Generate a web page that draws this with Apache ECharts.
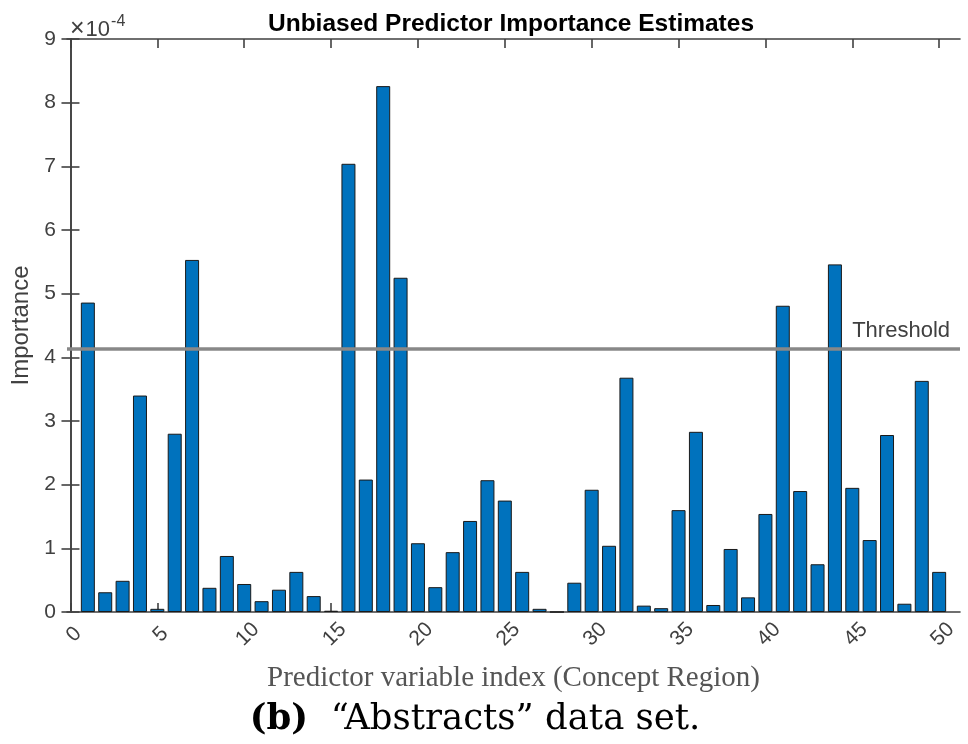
<!DOCTYPE html>
<html>
<head>
<meta charset="utf-8">
<script src="https://cdn.jsdelivr.net/npm/echarts@6/dist/echarts.min.js"></script>
<style>
  html, body { margin: 0; padding: 0; background: #fff; }
  #chart { width: 968px; height: 744px; }
</style>
</head>
<body>
<div id="chart"></div>
<script>
// Predictor indices 1..50 and their importance (units of 1e-4)
const predictorIndex = Array.from({ length: 50 }, (_, i) => i + 1);
const importance = [
  4.86, 0.31, 0.49, 3.40, 0.05, 2.80, 5.53, 0.38, 0.88, 0.44,
  0.17, 0.35, 0.63, 0.25, 0.02, 7.04, 2.08, 8.26, 5.25, 1.08,
  0.39, 0.94, 1.43, 2.07, 1.75, 0.63, 0.05, 0.00, 0.46, 1.92,
  1.04, 3.68, 0.10, 0.06, 1.60, 2.83, 0.11, 0.99, 0.23, 1.54,
  4.81, 1.90, 0.75, 5.46, 1.95, 1.13, 2.78, 0.13, 3.63, 0.63
];
const threshold = 4.14;
const xTicks = [0, 5, 10, 15, 20, 25, 30, 35, 40, 45, 50];

const axisColor = '#404040';
const sans = '"Liberation Sans", Arial, Helvetica, sans-serif';
const serif = '"Liberation Serif", "DejaVu Serif", serif';
const captionSerif = '"DejaVu Serif", "Liberation Serif", serif';

const chart = echarts.init(document.getElementById('chart'), null, { renderer: 'canvas' });

const barData = predictorIndex.map((x, i) => [x, importance[i]]);

chart.setOption({
  animation: false,
  backgroundColor: '#ffffff',
  title: [
    {
      text: 'Unbiased Predictor Importance Estimates',
      left: 506, top: 7, textAlign: 'center',
      textStyle: { fontFamily: sans, fontWeight: 'bold', fontSize: 24.5, color: '#000' }
    },
    {
      // axis exponent shown above the y axis
      text: '{x|×}{n|10}{e|-4}',
      left: 65, top: 8,
      textStyle: {
        fontFamily: sans, fontSize: 21, fontWeight: 'normal', color: axisColor,
        rich: {
          x: { fontFamily: sans, fontSize: 25, color: axisColor, padding: [4, 0, 0, 0] },
          n: { fontFamily: sans, fontSize: 22, color: axisColor, padding: [4, 0, 0, 1] },
          e: { fontFamily: sans, fontSize: 16, color: axisColor, padding: [0, 0, 12, 1] }
        }
      }
    },
    {
      text: '{b|(b)}  “Abstracts” data set.',
      left: 470, top: 697, textAlign: 'center',
      textStyle: {
        fontFamily: captionSerif, fontSize: 35.5, fontWeight: 'normal', color: '#000',
        rich: {
          b: { fontFamily: captionSerif, fontSize: 35.5, fontWeight: 'bold', color: '#000' }
        }
      }
    }
  ],
  grid: { left: 67, right: 8, top: 39, bottom: 132, containLabel: false },
  xAxis: [
    {
      type: 'value', min: -0.2, max: 51.2,
      position: 'bottom',
      name: 'Predictor variable index (Concept Region)',
      nameLocation: 'middle', nameGap: 52,
      nameTextStyle: { fontFamily: serif, fontSize: 29, color: '#555' },
      axisLine: { show: true, onZero: false, lineStyle: { color: axisColor, width: 1.6 } },
      axisTick: { show: true, inside: true, length: 9, customValues: xTicks, lineStyle: { color: axisColor, width: 1.6 } },
      axisLabel: {
        customValues: xTicks, rotate: 45, margin: 26,
        align: 'center', verticalAlign: 'middle', padding: [0, 0, 0, 10],
        fontFamily: sans, fontSize: 21, color: axisColor
      },
      splitLine: { show: false }
    },
    {
      type: 'value', min: -0.2, max: 51.2,
      position: 'top',
      axisLine: { show: true, onZero: false, lineStyle: { color: axisColor, width: 1.6 } },
      axisTick: { show: true, inside: true, length: 9, customValues: xTicks, lineStyle: { color: axisColor, width: 1.6 } },
      axisLabel: { show: false },
      splitLine: { show: false }
    }
  ],
  yAxis: [
    {
      type: 'value', min: 0, max: 9, interval: 1,
      position: 'left',
      name: 'Importance', nameLocation: 'middle', nameGap: 33,
      nameTextStyle: { fontFamily: sans, fontSize: 24, color: axisColor },
      axisLine: { show: true, lineStyle: { color: axisColor, width: 1.6 } },
      axisTick: { show: true, inside: true, length: 9, lineStyle: { color: axisColor, width: 1.6 } },
      axisLabel: { fontFamily: sans, fontSize: 21, color: axisColor, margin: 11 },
      splitLine: { show: false }
    },
    {
      type: 'value', min: 0, max: 9, interval: 1,
      position: 'right',
      axisLine: { show: true, lineStyle: { color: axisColor, width: 1.6 } },
      axisTick: { show: true, inside: true, length: 9, lineStyle: { color: axisColor, width: 1.6 } },
      axisLabel: { show: false },
      splitLine: { show: false }
    }
  ],
  series: [
    {
      type: 'bar',
      xAxisIndex: 0, yAxisIndex: 0,
      data: barData,
      barWidth: 14,
      itemStyle: { color: '#0072BD', borderColor: '#1a1a1a', borderWidth: 1 },
      markLine: {
        silent: true,
        symbol: 'none',
        lineStyle: { color: '#888888', width: 3.5, type: 'solid' },
        label: {
          show: true, position: 'insideEndTop', formatter: 'Threshold',
          fontFamily: sans, fontSize: 22, color: axisColor, distance: [10, 6]
        },
        data: [{ yAxis: threshold }]
      }
    }
  ]
});
</script>
</body>
</html>
